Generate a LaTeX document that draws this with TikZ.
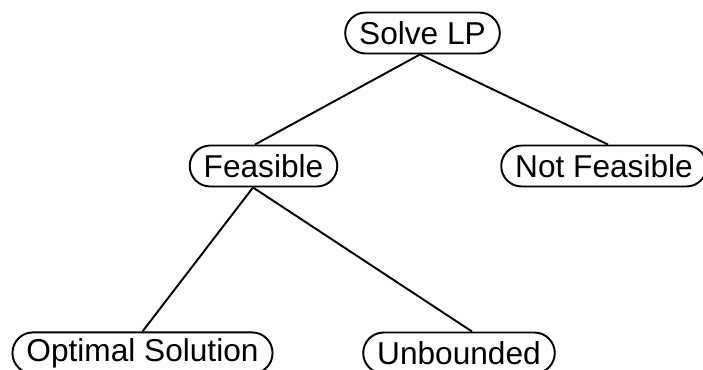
\documentclass[tikz,border=0pt]{standalone}
\usepackage{fontspec}
\setmainfont{Liberation Sans}
\usepackage{tikz}

\begin{document}
\begin{tikzpicture}[lpbox/.style={draw=black, line width=1.1pt, rounded corners=0.41cm,
		minimum height=0.82cm, inner xsep=0.28cm, font=\fontsize{18}{20}\selectfont},
	every path/.style={line width=1.1pt}]
	\useasboundingbox (0,0) rectangle (14.06,7.38);

	\node[lpbox] (solve) at (8.45,6.72) {Solve LP};

	\node[lpbox] (feas) at (5.27,4.06) {Feasible};
	\node[lpbox] (notfeas) at (12.08,4.06) {Not Feasible};

	\node[lpbox] (optimal) at (2.85,0.32) {Optimal Solution};
	\node[lpbox] (unbnd) at (9.18,0.32) {Unbounded};

	\draw ([xshift=-0.05cm]solve.south) -- ([xshift=-0.17cm]feas.north);
	\draw ([xshift=-0.05cm]solve.south) -- ([xshift=0.08cm]notfeas.north);

	\draw ([xshift=-0.21cm]feas.south) -- (optimal.north);
	\draw ([xshift=-0.21cm]feas.south) -- ([xshift=0.26cm]unbnd.north);
\end{tikzpicture}
\end{document}
